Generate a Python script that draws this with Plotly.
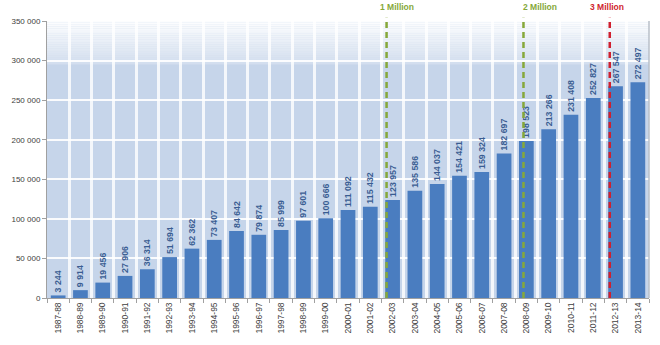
import plotly.graph_objects as go

# Academic years and yearly counts
years = ["1987-88", "1988-89", "1989-90", "1990-91", "1991-92", "1992-93", "1993-94",
         "1994-95", "1995-96", "1996-97", "1997-98", "1998-99", "1999-00", "2000-01",
         "2001-02", "2002-03", "2003-04", "2004-05", "2005-06", "2006-07", "2007-08",
         "2008-09", "2009-10", "2010-11", "2011-12", "2012-13", "2013-14"]
counts = [3244, 9914, 19456, 27906, 36314, 51694, 62362, 73407, 84642, 79874, 85999,
          97601, 100666, 111092, 115432, 123957, 135586, 144037, 154421, 159324, 182697,
          198523, 213266, 231408, 252827, 267547, 272497]

# Cumulative milestones: label, year in which it is crossed
milestone_labels = ["1 Million", "2 Million", "3 Million"]
milestone_years = ["2002-03", "2008-09", "2012-13"]
milestone_colors = ["#86a83a", "#86a83a", "#d01f2e"]
milestone_shift = [-0.27, -0.13, -0.26]
label_shift = [0.47, 0.75, -0.13]

y_ticks = [0, 50000, 100000, 150000, 200000, 250000, 300000, 350000]

FONT = "Liberation Sans"
labels = [f"<b>{v:,}</b>".replace(",", " ") for v in counts]

fig = go.Figure()
fig.add_trace(go.Bar(
    x=years, y=counts,
    marker=dict(color="#4a7dc0", line=dict(width=0)),
    text=labels, textposition="outside", textangle=-90,
    constraintext="none", cliponaxis=False,
    textfont=dict(family=FONT, size=8.8, color="#3a5d92"),
    width=0.66,
    hoverinfo="x+y",
))

shapes = []
# soft white fade towards the top of the plot area
n_bands = 24
for k in range(n_bands):
    y0 = 295000 + k * 55000 / n_bands
    y1 = y0 + 55000 / n_bands
    shapes.append(dict(type="rect", xref="paper", yref="y", x0=0, x1=1, y0=y0, y1=y1,
                       fillcolor="white", opacity=0.2 + 0.75 * (k + 1) / n_bands,
                       line=dict(width=0), layer="below"))
# right edge of the plot frame
shapes.append(dict(type="line", xref="paper", yref="paper", x0=1, x1=1, y0=0, y1=1,
                   line=dict(color="#b8bfc8", width=1.5), layer="above"))

annotations = []
for lab, yr, col, sh, ls in zip(milestone_labels, milestone_years, milestone_colors,
                                milestone_shift, label_shift):
    xi = years.index(yr) + sh
    shapes.append(dict(type="line", xref="x", yref="paper", x0=xi, x1=xi, y0=0, y1=1.012,
                       line=dict(color=col, width=2.5, dash="6px,4px"), layer="above"))
    annotations.append(dict(x=xi + ls, y=1.0, xref="x", yref="paper", text=f"<b>{lab}</b>",
                            showarrow=False, yanchor="bottom", yshift=7,
                            font=dict(family=FONT, size=8.5, color=col)))

fig.update_layout(
    width=660, height=345,
    margin=dict(l=44, r=11, t=21, b=47),
    paper_bgcolor="white",
    plot_bgcolor="#c6d5ea",
    separators=", ",
    showlegend=False,
    bargap=0.34,
    shapes=shapes,
    annotations=annotations,
    xaxis=dict(
        type="category", tickangle=-90,
        tickfont=dict(family=FONT, size=8.5, color="#404040"),
        showgrid=True, gridcolor="rgba(255,255,255,0.8)", gridwidth=2.5,
        tickson="boundaries", ticks="outside", ticklen=4, tickcolor="#a0a0a0",
        showline=True, linecolor="#a0a0a0", linewidth=1,
        range=[-0.5, len(years) - 0.5],
    ),
    yaxis=dict(
        range=[0, 350000], tickvals=y_ticks, tickformat=",d",
        tickfont=dict(family=FONT, size=8, color="#404040"),
        showgrid=True, gridcolor="rgba(255,255,255,0.9)", gridwidth=1.5,
        ticks="outside", ticklen=4, tickcolor="#a0a0a0",
        showline=True, linecolor="#a0a0a0", linewidth=1,
        zeroline=False,
    ),
)

fig.write_html("out.html")
